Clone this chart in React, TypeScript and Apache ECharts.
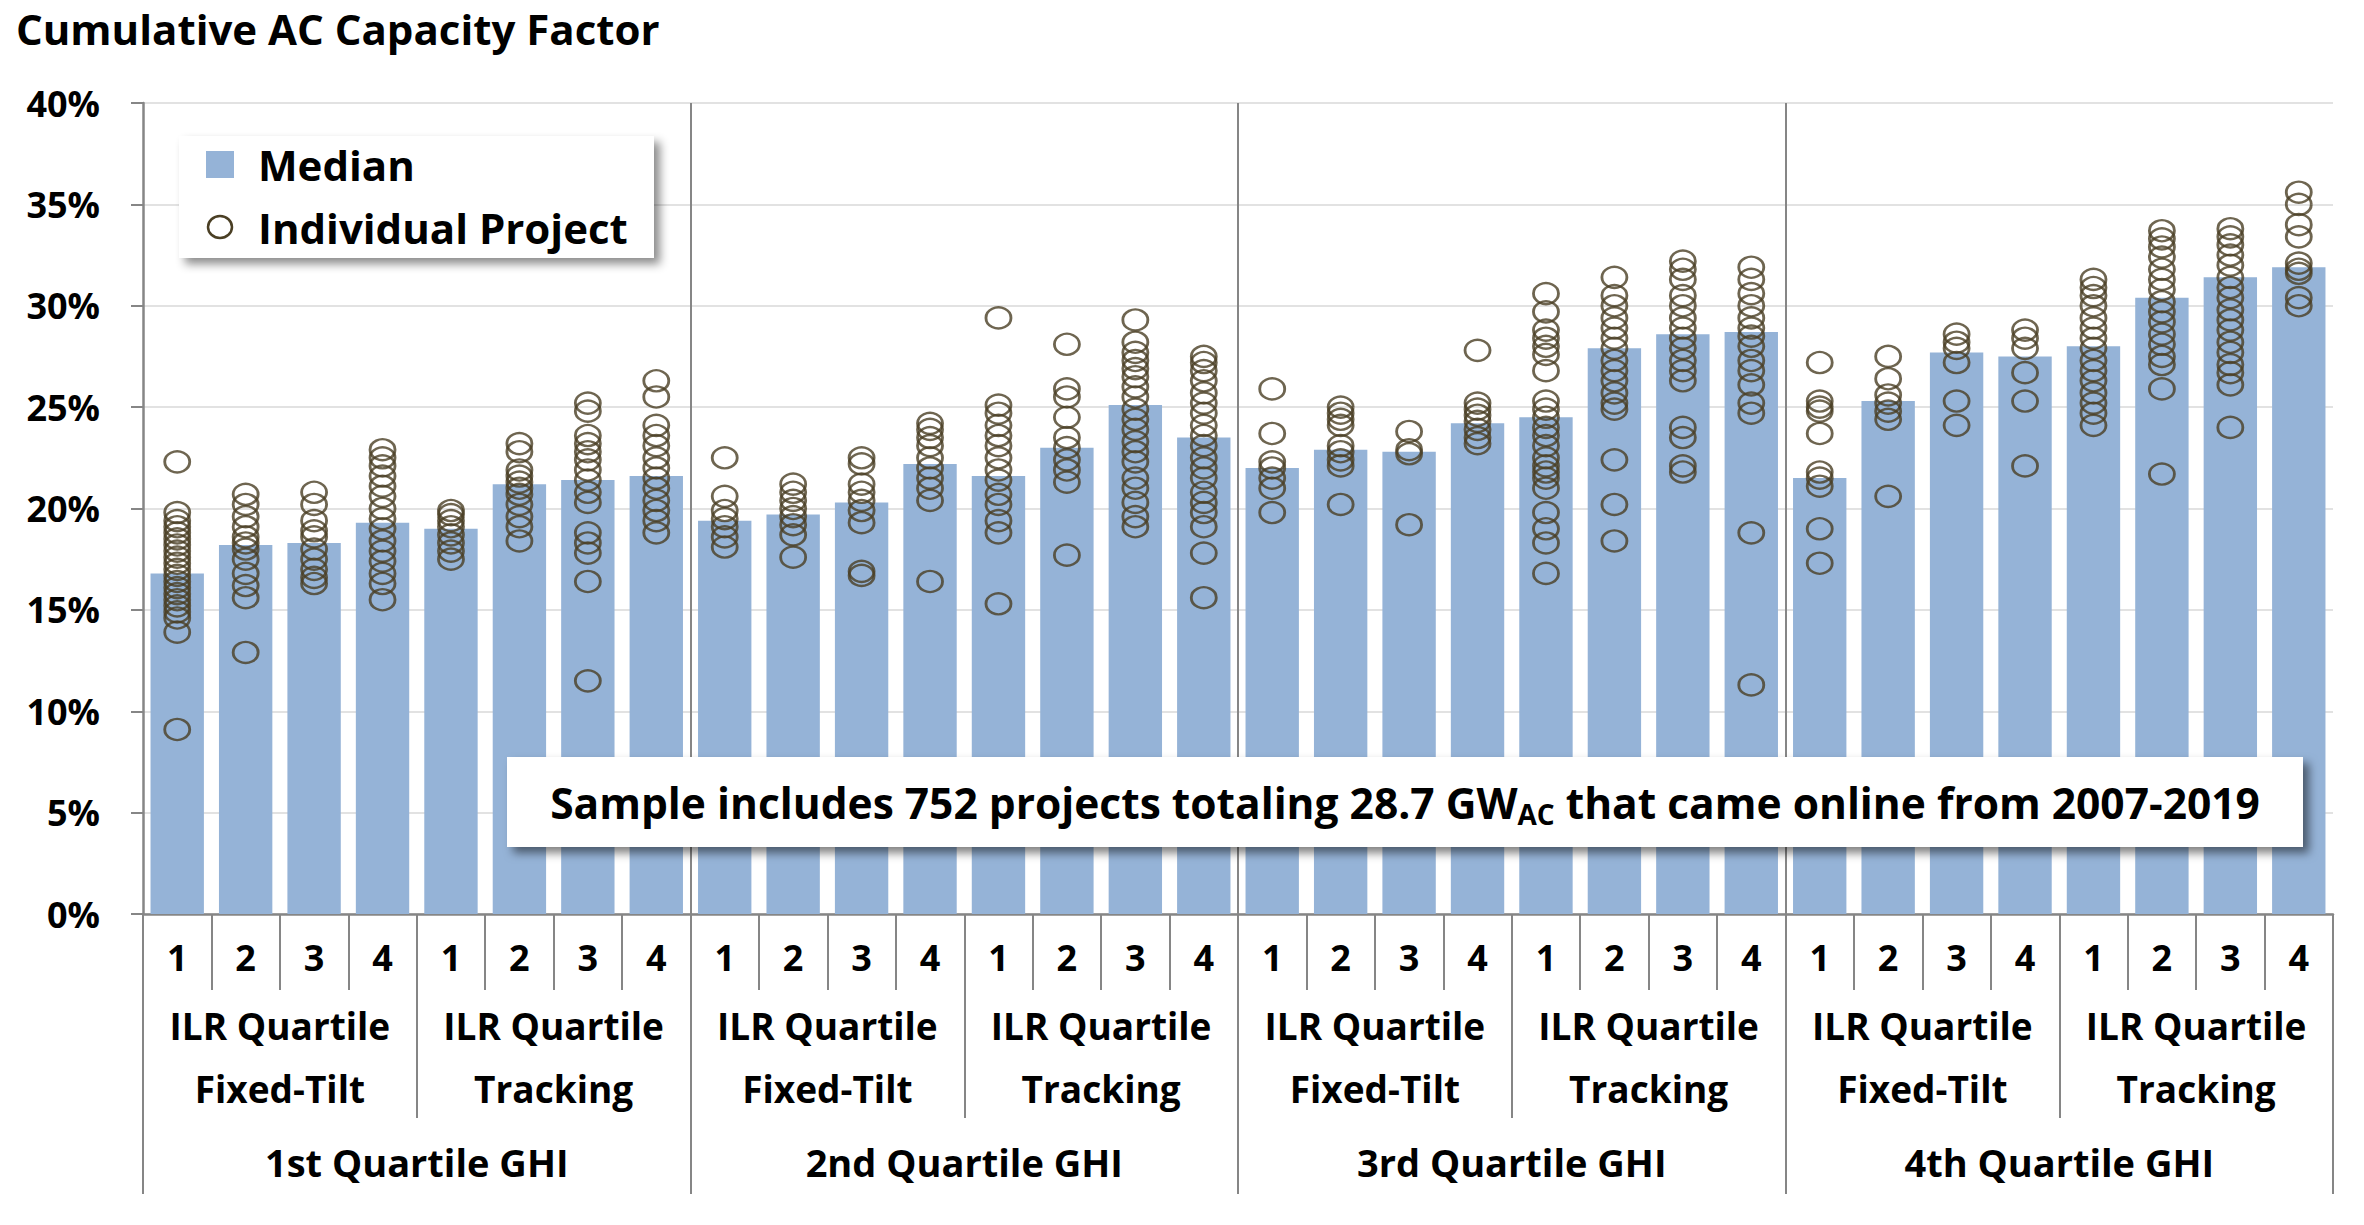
import React, { useEffect, useRef } from "react";
import * as echarts from "echarts";

// ---- Data ----
const ilrLabels = ["1", "2", "3", "4"];
const mountLabels = ["ILR Quartile\nFixed-Tilt", "ILR Quartile\nTracking"];
const ghiLabels = ["1st Quartile GHI", "2nd Quartile GHI", "3rd Quartile GHI", "4th Quartile GHI"];
const yTicks = [0, 5, 10, 15, 20, 25, 30, 35, 40];

// medians (%) per GHI quartile, 8 values each: fixed-tilt ILR 1-4, tracking ILR 1-4
const medianQ1 = [16.8, 18.2, 18.3, 19.3, 19.0, 21.2, 21.4, 21.6];
const medianQ2 = [19.4, 19.7, 20.3, 22.2, 21.6, 23.0, 25.1, 23.5];
const medianQ3 = [22.0, 22.9, 22.8, 24.2, 24.5, 27.9, 28.6, 28.7];
const medianQ4 = [21.5, 25.3, 27.7, 27.5, 28.0, 30.4, 31.4, 31.9];

// individual projects (%)
const projectsQ1 = [
  [22.3, 19.8, 19.4, 19.1, 18.8, 18.5, 18.2, 17.9, 17.6, 17.3, 17.0, 16.7, 16.4, 16.1, 15.8, 15.5, 15.2, 14.9, 14.6, 13.9, 9.1],
  [20.7, 20.2, 19.6, 19.1, 18.6, 18.3, 18.0, 17.5, 16.8, 16.2, 15.6, 12.9],
  [20.8, 20.2, 19.4, 18.9, 18.6, 18.0, 17.5, 17.0, 16.6, 16.3],
  [22.9, 22.5, 22.1, 21.6, 21.1, 20.6, 20.0, 19.5, 19.0, 18.4, 17.9, 17.4, 16.8, 16.3, 15.5],
  [19.9, 19.7, 19.4, 19.1, 18.7, 18.3, 17.9, 17.5],
  [23.2, 22.8, 21.9, 21.6, 21.3, 21.0, 20.7, 20.2, 19.6, 19.1, 18.4],
  [25.2, 24.8, 23.6, 23.2, 22.8, 22.4, 21.9, 21.4, 20.8, 20.3, 18.8, 18.3, 17.8, 16.4, 11.5],
  [26.3, 25.5, 24.1, 23.6, 23.1, 22.5, 22.0, 21.5, 21.0, 20.4, 19.9, 19.4, 18.8],
];
const projectsQ2 = [
  [22.5, 20.6, 19.9, 19.5, 19.1, 18.6, 18.1],
  [21.2, 20.8, 20.4, 20.0, 19.6, 19.2, 18.7, 17.6],
  [22.5, 22.2, 21.2, 20.8, 20.4, 19.9, 19.3, 16.9, 16.7],
  [24.2, 23.9, 23.5, 23.1, 22.5, 22.0, 21.5, 21.0, 20.4, 16.4],
  [29.4, 25.1, 24.7, 24.1, 23.6, 23.1, 22.5, 21.9, 21.4, 20.7, 20.2, 19.4, 18.8, 15.3],
  [28.1, 25.9, 25.5, 24.5, 23.5, 23.0, 22.4, 21.9, 21.3, 17.7],
  [29.3, 28.2, 27.7, 27.3, 26.9, 26.5, 26.0, 25.5, 24.9, 24.4, 23.9, 23.3, 22.8, 22.3, 21.5, 21.0, 20.3, 19.6, 19.1],
  [27.5, 27.2, 26.8, 26.3, 25.7, 25.2, 24.7, 24.1, 23.6, 23.1, 22.5, 22.0, 21.5, 20.8, 20.3, 19.8, 19.1, 17.8, 15.6],
];
const projectsQ3 = [
  [25.9, 23.7, 22.3, 22.0, 21.5, 21.0, 19.8],
  [25.0, 24.7, 24.4, 24.1, 23.1, 22.8, 22.4, 22.1, 20.2],
  [23.8, 22.9, 22.7, 19.2],
  [27.8, 25.2, 24.9, 24.6, 24.3, 23.9, 23.5, 23.2],
  [30.6, 29.7, 28.8, 28.4, 28.0, 27.6, 26.8, 25.3, 24.9, 24.5, 24.0, 23.6, 23.1, 22.5, 22.1, 21.8, 21.5, 21.0, 19.8, 19.0, 18.3, 16.8],
  [31.4, 30.5, 30.0, 29.4, 28.9, 28.4, 27.9, 27.3, 26.8, 26.3, 25.7, 25.2, 24.9, 22.4, 20.2, 18.4],
  [32.2, 31.8, 31.3, 30.5, 30.0, 29.4, 28.9, 28.4, 27.9, 27.3, 26.8, 26.3, 24.0, 23.5, 22.1, 21.8],
  [31.9, 31.3, 30.6, 30.0, 29.4, 28.9, 28.5, 28.0, 27.3, 26.8, 26.1, 25.2, 24.7, 18.8, 11.3],
];
const projectsQ4 = [
  [27.2, 25.3, 25.0, 24.8, 23.7, 21.8, 21.5, 21.1, 19.0, 17.3],
  [27.5, 26.4, 25.6, 25.2, 24.8, 24.4, 20.6],
  [28.6, 28.2, 27.9, 27.2, 25.3, 24.1],
  [28.8, 28.4, 27.9, 26.7, 25.3, 22.1],
  [31.3, 30.9, 30.5, 30.0, 29.4, 28.9, 28.4, 27.9, 27.3, 26.8, 26.3, 25.7, 25.2, 24.7, 24.1],
  [33.7, 33.3, 32.9, 32.4, 31.8, 31.3, 30.8, 30.2, 29.7, 29.2, 28.6, 28.1, 27.5, 27.1, 25.9, 21.7],
  [33.8, 33.4, 33.0, 32.5, 32.0, 31.4, 30.9, 30.4, 29.8, 29.3, 28.8, 28.2, 27.7, 27.1, 26.7, 26.1, 24.0],
  [35.6, 35.0, 34.0, 33.4, 32.1, 31.8, 31.6, 30.4, 30.0],
];

const FONT = "'Open Sans', 'Noto Sans', sans-serif";
const BAR_COLOR = "#95b3d7";
const DOT_COLOR = "#4a3f24";
const AXIS_COLOR = "#868686";

export default function App() {
  const ref = useRef<HTMLDivElement>(null);

  useEffect(() => {
    if (!ref.current) return;
    const chart = echarts.init(ref.current, undefined, { renderer: "svg" });

    const level1: string[] = [];
    ghiLabels.forEach(() => mountLabels.forEach(() => ilrLabels.forEach((l) => level1.push(l))));
    const level2: string[] = [];
    ghiLabels.forEach(() => mountLabels.forEach((m) => level2.push(m)));

    const medians = [...medianQ1, ...medianQ2, ...medianQ3, ...medianQ4];
    const projects = [...projectsQ1, ...projectsQ2, ...projectsQ3, ...projectsQ4];
    const scatterData: number[][] = [];
    projects.forEach((arr, i) => arr.forEach((v) => scatterData.push([i, v])));

    const boldLabel = { fontFamily: FONT, fontWeight: "bold" as const, color: "#000", fontSize: 36 };

    chart.setOption({
      animation: false,
      backgroundColor: "#fff",
      title: {
        text: "Cumulative AC Capacity Factor",
        left: 16,
        top: 4,
        padding: 0,
        textStyle: { fontFamily: FONT, fontWeight: "bold", fontSize: 42, color: "#000", lineHeight: 48 },
      },
      grid: { left: 143, right: 31, top: 103, bottom: 311, containLabel: false },
      xAxis: [
        {
          type: "category",
          data: level1,
          position: "bottom",
          axisLine: { show: true, lineStyle: { color: AXIS_COLOR, width: 2.5 } },
          axisTick: { show: true, interval: 0, length: 76, lineStyle: { color: AXIS_COLOR, width: 2 } },
          axisLabel: { ...boldLabel, interval: 0, margin: 25 },
          splitLine: { show: false },
        },
        {
          type: "category",
          data: level2,
          position: "bottom",
          axisLine: { show: false },
          axisTick: { show: true, interval: 0, length: 204, lineStyle: { color: AXIS_COLOR, width: 2 } },
          axisLabel: { ...boldLabel, fontSize: 37, interval: 0, margin: 80, lineHeight: 63 },
          splitLine: { show: false },
        },
        {
          type: "category",
          data: ghiLabels,
          position: "bottom",
          axisLine: { show: false },
          axisTick: { show: true, interval: 0, length: 280, lineStyle: { color: AXIS_COLOR, width: 2 } },
          axisLabel: { ...boldLabel, fontSize: 38, interval: 0, margin: 229 },
          splitLine: {
            show: true,
            interval: 0,
            showMinLine: false,
            showMaxLine: false,
            lineStyle: { color: AXIS_COLOR, width: 2 },
          },
        },
      ],
      yAxis: {
        type: "value",
        min: 0,
        max: 40,
        interval: 5,
        axisLine: { show: true, lineStyle: { color: AXIS_COLOR, width: 2.5 } },
        axisTick: { show: true, length: 12, lineStyle: { color: AXIS_COLOR, width: 2 } },
        axisLabel: {
          ...boldLabel,
          margin: 43,
          formatter: (v: number) => (yTicks.includes(v) ? `${v}%` : ""),
        },
        splitLine: { show: true, lineStyle: { color: "#d9d9d9", width: 1.5 } },
      },
      series: [
        {
          name: "Median",
          type: "bar",
          xAxisIndex: 0,
          data: medians,
          barCategoryGap: "22%",
          itemStyle: { color: BAR_COLOR },
          z: 2,
        },
        {
          name: "Individual Project",
          type: "scatter",
          xAxisIndex: 0,
          data: scatterData,
          symbol: "circle",
          symbolSize: [25, 21],
          itemStyle: { color: "rgba(0,0,0,0)", borderColor: DOT_COLOR, borderWidth: 2.6 },
          z: 3,
        },
      ],
      graphic: [
        {
          type: "group",
          z: 100,
          children: [
            {
              type: "rect",
              shape: { x: 179, y: 136, width: 475, height: 122 },
              style: { fill: "#fff", shadowBlur: 10, shadowOffsetX: 6, shadowOffsetY: 6, shadowColor: "rgba(0,0,0,0.45)" },
              z: 100,
            },
            {
              type: "rect",
              shape: { x: 206, y: 151, width: 28, height: 27 },
              style: { fill: BAR_COLOR },
              z: 101,
            },
            {
              type: "ellipse",
              shape: { cx: 220, cy: 227, rx: 12, ry: 11 },
              style: { fill: "none", stroke: DOT_COLOR, lineWidth: 2.5 },
              z: 101,
            },
            {
              type: "text",
              x: 258,
              y: 164,
              style: { text: "Median", fontFamily: FONT, fontWeight: "bold", fontSize: 42, fill: "#000", verticalAlign: "middle" },
              z: 101,
            },
            {
              type: "text",
              x: 258,
              y: 227,
              style: { text: "Individual Project", fontFamily: FONT, fontWeight: "bold", fontSize: 42, fill: "#000", verticalAlign: "middle" },
              z: 101,
            },
          ],
        },
        {
          type: "group",
          z: 100,
          children: [
            {
              type: "rect",
              shape: { x: 507, y: 757, width: 1796, height: 90 },
              style: { fill: "#fff", shadowBlur: 10, shadowOffsetX: 6, shadowOffsetY: 6, shadowColor: "rgba(0,0,0,0.5)" },
              z: 100,
            },
            {
              type: "text",
              x: 1405,
              y: 802,
              style: {
                text: "{a|Sample includes 752 projects totaling 28.7 GW}{s|AC}{a| that came online from 2007-2019}",
                align: "center",
                verticalAlign: "middle",
                rich: {
                  a: { fontFamily: FONT, fontWeight: "bold", fontSize: 42.5, fill: "#000", lineHeight: 50 },
                  s: { fontFamily: FONT, fontWeight: "bold", fontSize: 28, fill: "#000", lineHeight: 50, padding: [24, 0, 0, 0] },
                },
              },
              z: 101,
            },
          ],
        },
      ],
    });

    return () => chart.dispose();
  }, []);

  return <div ref={ref} style={{ position: "fixed", left: 0, top: 0, width: 2364, height: 1225 }} />;
}
